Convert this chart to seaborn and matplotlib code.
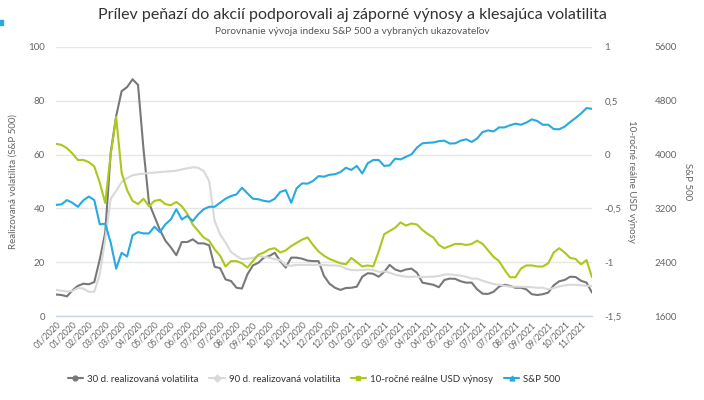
import pandas as pd
import seaborn as sns
import matplotlib.pyplot as plt
import matplotlib.dates as mdates
from matplotlib.lines import Line2D
from matplotlib.patches import Rectangle
from matplotlib.ticker import FuncFormatter

# weekly observations, Jan 2020 - Nov 2021
weeks = pd.date_range("2020-01-03", periods=99, freq="7D")

vol_30d = [8.0, 7.8, 7.3, 9.5, 11.2, 12.0, 11.8, 12.6, 21.0, 31.0,
           60.7, 74.3, 83.6, 85.1, 88.0, 85.9, 62.0, 42.0, 37.0, 32.0,
           28.0, 25.5, 22.6, 27.5, 27.5, 28.5, 27.0, 27.0, 26.3, 18.3,
           17.8, 13.6, 13.0, 10.5, 10.2, 15.5, 18.8, 19.8, 21.7, 22.3,
           23.5, 20.4, 18.0, 21.7, 21.7, 21.3, 20.6, 20.4, 20.4, 14.9,
           12.0, 10.5, 9.7, 10.4, 10.5, 10.9, 14.6, 15.9, 15.7, 14.6,
           16.4, 19.0, 17.3, 16.6, 17.3, 17.6, 16.1, 12.4, 12.0, 11.6,
           10.7, 13.4, 13.9, 13.8, 12.9, 12.4, 12.4, 9.9, 8.3, 8.2,
           9.0, 10.9, 11.6, 11.2, 10.5, 10.5, 9.9, 8.1, 7.8, 8.1,
           8.7, 11.4, 12.9, 13.4, 14.6, 14.5, 13.1, 12.4, 8.7]

vol_90d = [9.7, 9.4, 9.1, 9.3, 10.4, 10.2, 9.0, 9.0, 15.5, 28.5,
           43.6, 46.5, 49.8, 51.3, 52.3, 52.7, 52.9, 53.2, 53.3, 53.5,
           53.7, 53.8, 54.0, 54.5, 54.9, 55.3, 55.1, 53.9, 50.2, 35.3,
           30.4, 27.3, 23.8, 22.3, 21.1, 21.3, 21.6, 22.3, 22.0, 21.7,
           21.1, 20.8, 18.8, 18.7, 19.0, 19.0, 19.0, 19.0, 19.0, 19.0,
           18.8, 18.8, 18.6, 17.6, 17.1, 17.0, 17.1, 17.3, 17.1, 16.4,
           16.6, 16.1, 15.4, 14.9, 14.6, 14.6, 14.6, 14.4, 14.6, 14.6,
           14.9, 15.4, 15.5, 15.2, 15.0, 14.6, 13.9, 13.9, 13.1, 12.5,
           11.9, 11.6, 11.2, 10.9, 10.9, 10.9, 10.8, 10.7, 10.5, 10.5,
           9.9, 10.4, 11.0, 11.4, 11.6, 11.6, 11.4, 11.2, 11.2]

real_yield = [0.10, 0.09, 0.06, 0.01, -0.05, -0.05, -0.07, -0.11, -0.26, -0.45,
              0.00, 0.35, -0.17, -0.33, -0.43, -0.46, -0.41, -0.48, -0.43, -0.42,
              -0.46, -0.47, -0.44, -0.48, -0.55, -0.65, -0.71, -0.77, -0.80, -0.88,
              -0.94, -1.04, -0.99, -0.99, -1.01, -1.05, -0.99, -0.93, -0.91, -0.88,
              -0.87, -0.91, -0.89, -0.85, -0.82, -0.79, -0.77, -0.84, -0.90, -0.94,
              -0.97, -0.99, -1.01, -1.02, -0.96, -1.00, -1.04, -1.03, -1.04, -0.90,
              -0.74, -0.71, -0.68, -0.63, -0.66, -0.64, -0.65, -0.70, -0.74, -0.77,
              -0.84, -0.87, -0.85, -0.83, -0.83, -0.84, -0.83, -0.80, -0.83, -0.89,
              -0.95, -0.99, -1.07, -1.14, -1.14, -1.06, -1.03, -1.03, -1.04, -1.04,
              -1.01, -0.91, -0.87, -0.91, -0.96, -0.97, -1.02, -0.98, -1.14]

sp500 = [3252, 3260, 3324, 3284, 3224, 3320, 3376, 3324, 2964, 2972,
         2692, 2304, 2540, 2484, 2800, 2848, 2828, 2828, 2928, 2848,
         2964, 3036, 3188, 3036, 3088, 3012, 3112, 3188, 3224, 3224,
         3284, 3344, 3384, 3408, 3508, 3424, 3344, 3336, 3312, 3300,
         3344, 3444, 3472, 3284, 3500, 3572, 3568, 3608, 3680, 3672,
         3700, 3708, 3740, 3804, 3772, 3832, 3720, 3872, 3920, 3920,
         3832, 3840, 3940, 3928, 3968, 4004, 4104, 4168, 4176, 4180,
         4200, 4208, 4164, 4168, 4208, 4228, 4188, 4240, 4336, 4360,
         4344, 4404, 4404, 4436, 4460, 4444, 4476, 4524, 4500, 4444,
         4444, 4380, 4376, 4416, 4484, 4544, 4612, 4692, 4680]

series_names = ["30 d. realizovaná volatilita", "90 d. realizovaná volatilita",
                "10-ročné reálne USD výnosy", "S&P 500"]
series_colors = ["#77787b", "#d9d9d9", "#aac81e", "#27aae1"]
series_markers = ["o", "D", "s", "^"]

df = pd.DataFrame({"week": weeks, "vol30": vol_30d, "vol90": vol_90d,
                   "yield": real_yield, "sp": sp500})

sns.set_theme(style="white")
plt.rcParams["font.family"] = ["Lato", "DejaVu Sans"]

fig = plt.figure(figsize=(7.04, 4.0), dpi=100)
ax = fig.add_axes([56 / 704, 1 - 316 / 400, 536 / 704, 269 / 400])
ax2 = ax.twinx()
ax3 = ax.twinx()

lw = 1.5
sns.lineplot(data=df, x="week", y="vol30", ax=ax, color=series_colors[0], linewidth=lw)
sns.lineplot(data=df, x="week", y="vol90", ax=ax, color=series_colors[1], linewidth=lw)
sns.lineplot(data=df, x="week", y="yield", ax=ax2, color=series_colors[2], linewidth=lw)
sns.lineplot(data=df, x="week", y="sp", ax=ax3, color=series_colors[3], linewidth=lw)

tick_col = "#666666"

# left axis - volatility
ax.set_ylim(0, 100)
ax.set_yticks(range(0, 101, 20))
ax.yaxis.grid(True, color="#e6e6e6", linewidth=1)
ax.set_axisbelow(True)
ax.tick_params(axis="y", length=0, labelsize=7, labelcolor=tick_col, pad=8)
ax.set_ylabel("Realizovaná volatilita (S&P 500)", fontsize=7, color=tick_col)
ax.yaxis.set_label_coords(-0.071, 0.5)

# x axis
ax.set_xlim(weeks[0], weeks[-1])
ax.set_xticks(weeks[::3])
ax.xaxis.set_major_formatter(mdates.DateFormatter("%m/%Y"))
ax.tick_params(axis="x", length=0, labelsize=6.2, labelcolor=tick_col, pad=3)
for lbl in ax.get_xticklabels():
    lbl.set_rotation(45)
    lbl.set_ha("right")
    lbl.set_rotation_mode("anchor")
ax.set_xlabel("")

for s in ax.spines.values():
    s.set_visible(False)
ax.spines["bottom"].set_visible(True)
ax.spines["bottom"].set_color("#ccd6eb")
ax.spines["bottom"].set_linewidth(1)

# right axis - real yields
ax2.set_ylim(-1.5, 1)
ax2.set_yticks([-1.5, -1, -0.5, 0, 0.5, 1])
ax2.yaxis.set_major_formatter(FuncFormatter(lambda v, p: f"{v:g}".replace(".", ",")))
ax2.tick_params(axis="y", length=0, labelsize=7, labelcolor=tick_col, pad=9)
ax2.set_ylabel("10-ročné reálne USD výnosy", fontsize=7, color=tick_col, rotation=270, va="center")
ax2.yaxis.set_label_coords(1.0746, 0.5)
ax2.grid(False)
ax2.set_xlabel("")

# far right axis - S&P 500
ax3.spines["right"].set_position(("outward", 36))
ax3.set_ylim(1600, 5600)
ax3.set_yticks(range(1600, 5601, 800))
ax3.tick_params(axis="y", length=0, labelsize=7, labelcolor=tick_col, pad=9)
ax3.set_ylabel("S&P 500", fontsize=7, color=tick_col, rotation=270, va="center")
ax3.yaxis.set_label_coords(1.179, 0.5)
ax3.grid(False)
ax3.set_xlabel("")

for a in (ax2, ax3):
    for s in a.spines.values():
        s.set_visible(False)

# titles
fig.text(0.5, 1 - 15 / 400, "Prílev peňazí do akcií podporovali aj záporné výnosy a klesajúca volatilita",
         ha="center", va="center", fontsize=11.5, color="#333333")
fig.text(0.5, 1 - 32 / 400, "Porovnanie vývoja indexu S&P 500 a vybraných ukazovateľov",
         ha="center", va="center", fontsize=7.3, color="#555555")

# legend
handles = [Line2D([0], [0], color=c, marker=m, markersize=3.5, linewidth=1.5)
           for c, m in zip(series_colors, series_markers)]
fig.legend(handles, series_names, loc="center", bbox_to_anchor=(314 / 704, 1 - 379 / 400),
           ncol=4, frameon=False, fontsize=7, handlelength=1.6, handletextpad=0.4,
           columnspacing=1.1, labelcolor="#333333")

# small marker at top-left edge
fig.patches.append(Rectangle((0, 1 - 25 / 400), 3 / 704, 5 / 400,
                             transform=fig.transFigure, color="#27aae1"))

fig.savefig("out.png", dpi=100)
